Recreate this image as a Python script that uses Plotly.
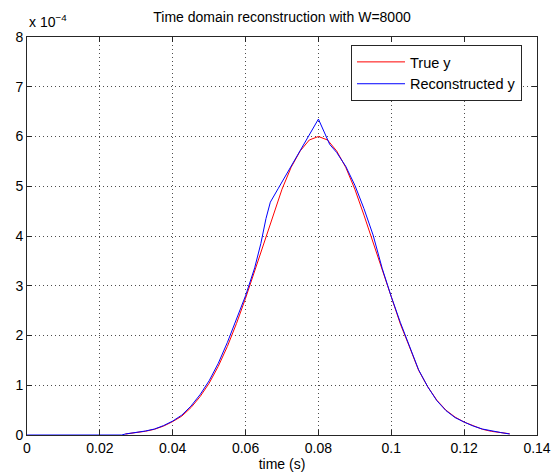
import plotly.graph_objects as go

# ---- data (values in units of 1e-4) ----
t_true = [0.027, 0.030, 0.0325, 0.035, 0.0375, 0.040, 0.0425, 0.045, 0.0475, 0.050,
          0.0525, 0.055, 0.0575, 0.060, 0.0625, 0.065, 0.0675, 0.070, 0.0725, 0.075,
          0.0775, 0.080, 0.0825, 0.085, 0.0875, 0.090, 0.0925, 0.095, 0.0975, 0.100,
          0.1025, 0.105, 0.1075, 0.110, 0.1125, 0.115, 0.1175, 0.120, 0.1225, 0.125,
          0.1275, 0.130, 0.1325]
y_true_e4 = [0.02, 0.045, 0.075, 0.115, 0.18, 0.27, 0.38, 0.55, 0.77, 1.04,
             1.38, 1.78, 2.24, 2.75, 3.30, 3.87, 4.42, 4.94, 5.38, 5.71,
             5.93, 6.00, 5.93, 5.71, 5.38, 4.94, 4.42, 3.87, 3.30, 2.75,
             2.23, 1.77, 1.30, 0.97, 0.70, 0.50, 0.36, 0.26, 0.18, 0.115,
             0.073, 0.045, 0.025]

t_rec = [0.0, 0.026, 0.027, 0.030, 0.0325, 0.035, 0.0375, 0.040, 0.0425, 0.045, 0.0475,
         0.050, 0.0525, 0.055, 0.0575, 0.060, 0.0625, 0.0642, 0.0656, 0.0668, 0.069, 0.0725,
         0.075, 0.0775, 0.080, 0.0831, 0.085, 0.0875, 0.090, 0.0925, 0.095, 0.0975,
         0.100, 0.1025, 0.105, 0.1075, 0.110, 0.1125, 0.115, 0.1175, 0.120, 0.1225,
         0.125, 0.1275, 0.130, 0.1325]
y_rec_e4 = [0.0, 0.0, 0.02, 0.05, 0.08, 0.12, 0.19, 0.28, 0.40, 0.58, 0.81,
            1.09, 1.44, 1.86, 2.32, 2.80, 3.36, 3.85, 4.35, 4.68, 4.96, 5.40,
            5.72, 6.04, 6.35, 5.84, 5.68, 5.40, 5.02, 4.55, 4.02, 3.35,
            2.78, 2.26, 1.78, 1.31, 0.97, 0.69, 0.49, 0.35, 0.26, 0.18,
            0.12, 0.08, 0.05, 0.02]

x_ticks = [0, 0.02, 0.04, 0.06, 0.08, 0.1, 0.12, 0.14]
x_ticktext = ["0", "0.02", "0.04", "0.06", "0.08", "0.1", "0.12", "0.14"]
y_ticks_e4 = [0, 1, 2, 3, 4, 5, 6, 7, 8]
y_ticktext = [str(v) for v in y_ticks_e4]

title_text = "Time domain reconstruction with W=8000"
xlabel = "time (s)"

scale = 1e-4
FONT = "Liberation Sans, Arial, sans-serif"
FS = 14

fig = go.Figure()
fig.add_trace(go.Scatter(x=t_true, y=[v * scale for v in y_true_e4], mode="lines",
                         name="True y", line=dict(color="#ff0000", width=1)))
fig.add_trace(go.Scatter(x=t_rec, y=[v * scale for v in y_rec_e4], mode="lines",
                         name="Reconstructed y", line=dict(color="#0000ff", width=1)))

axis_common = dict(
    showline=True, linecolor="#262626", linewidth=1, mirror="ticks",
    ticks="inside", ticklen=5, tickcolor="#262626",
    showgrid=True, gridcolor="#4d4d4d", griddash="1px,3px", gridwidth=1,
    zeroline=False, automargin=False,
    tickfont=dict(family=FONT, size=FS, color="#000000"),
)

fig.update_xaxes(range=[0, 0.14], tickvals=x_ticks, ticktext=x_ticktext,
                 title=dict(text=xlabel, font=dict(family=FONT, size=FS, color="#000"), standoff=2),
                 **axis_common)
fig.update_yaxes(range=[0, 8 * scale], tickvals=[v * scale for v in y_ticks_e4],
                 ticktext=y_ticktext, **axis_common)

fig.add_annotation(xref="paper", yref="paper", x=0.0, y=1.012, xanchor="left", yanchor="bottom",
                   text="x 10<sup>\u22124</sup>", showarrow=False,
                   font=dict(family=FONT, size=FS, color="#000"))

fig.update_layout(
    width=551, height=475,
    margin=dict(l=27, r=14, t=37, b=40),
    paper_bgcolor="white", plot_bgcolor="white",
    title=dict(text=title_text, x=0.5, xref="paper", y=0.964, yref="container",
               yanchor="middle", xanchor="center",
               font=dict(family=FONT, size=FS, color="#000")),
    showlegend=True,
    legend=dict(x=0.9706, y=0.98, xanchor="right", yanchor="top",
                bgcolor="white", bordercolor="#262626", borderwidth=1,
                font=dict(family=FONT, size=14.5, color="#000"),
                tracegroupgap=0, itemwidth=48),
    font=dict(family=FONT),
)

fig.write_html("out.html")
